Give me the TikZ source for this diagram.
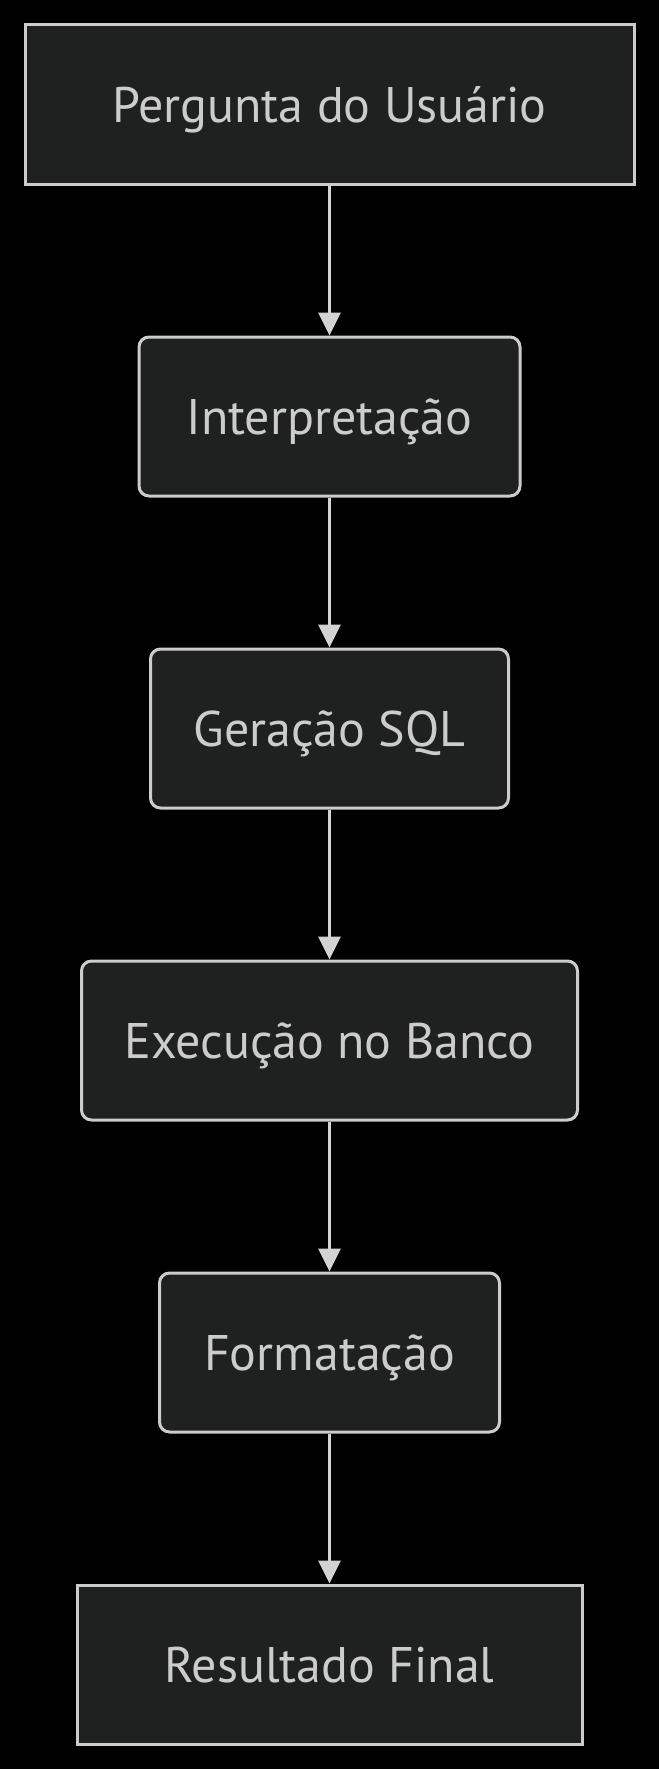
\documentclass[tikz,border=0pt]{standalone}
\usepackage{fontspec}
\setmainfont{PT Sans}
\usetikzlibrary{arrows.meta}

\definecolor{boxfill}{HTML}{1F2020}
\definecolor{boxline}{HTML}{CCCCCC}
\definecolor{flowline}{HTML}{D3D3D3}

\begin{document}
\begin{tikzpicture}[x=1pt, y=1pt]
        \tikzstyle{stage}=[draw=boxline, fill=boxfill, line width=3pt, text=boxline, minimum height=159pt, inner sep=0pt, text height=35pt, text depth=0pt, font=\fontsize{50}{56}\selectfont];
        \tikzstyle{soft}=[rounded corners=10pt];
        \tikzstyle{flow}=[draw=flowline, line width=3pt, -{Triangle[length=23pt, width=22pt]}];

        \fill[black] (0, 0) rectangle (659, -1769);

        \node[stage, minimum width=609pt] (pergunta) at (329.5, -104.5) {Pergunta do Usuário};
        \node[stage, soft, minimum width=381pt] (interp) at (329.5, -416.5) {Interpretação};
        \node[stage, soft, minimum width=358pt] (geracao) at (329.5, -728.5) {Geração SQL};
        \node[stage, soft, minimum width=496pt] (execucao) at (329.5, -1040.5) {Execução no Banco};
        \node[stage, soft, minimum width=340pt] (formatacao) at (329.5, -1352.5) {Formatação};
        \node[stage, minimum width=505pt] (resultado) at (329.5, -1664.5) {Resultado Final};

        \draw (pergunta) edge[flow] (interp);
        \draw (interp) edge[flow] (geracao);
        \draw (geracao) edge[flow] (execucao);
        \draw (execucao) edge[flow] (formatacao);
        \draw (formatacao) edge[flow] (resultado);

    \end{tikzpicture}
\end{document}
